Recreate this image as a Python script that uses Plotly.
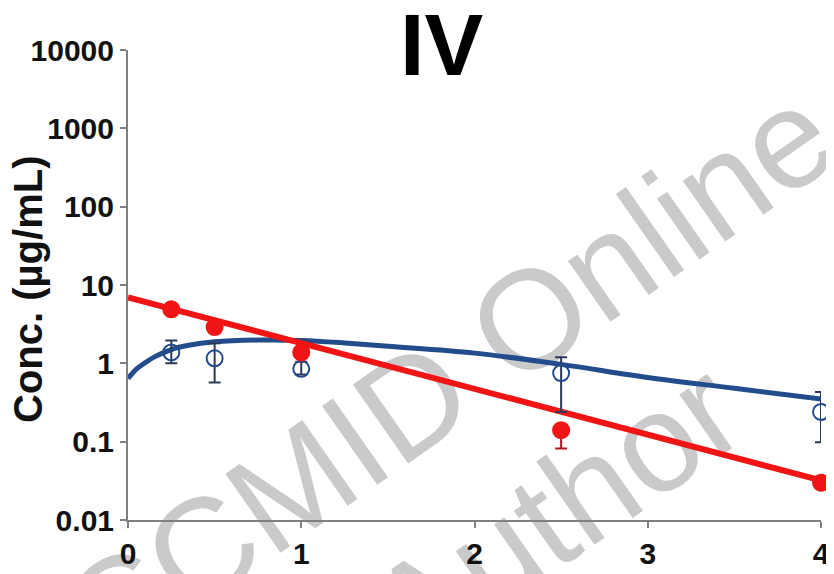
import plotly.graph_objects as go

# ---- data ----
time_points = [0.25, 0.5, 1, 2.5, 4]

red_mean = [4.9, 2.9, 1.38, 0.14, 0.030]
red_err_plus = [0.4, 0.3, 0.2, 0.02, 0.003]
red_err_minus = [0.4, 0.3, 0.2, 0.058, 0.003]

blue_mean = [1.38, 1.16, 0.85, 0.75, 0.24]
blue_err_plus = [0.57, 0.64, 0.2, 0.45, 0.19]
blue_err_minus = [0.38, 0.59, 0.13, 0.51, 0.142]

red_fit_t = [0, 4]
red_fit_c = [6.97, 0.032]

blue_fit_t = [0, 0.05, 0.1, 0.15, 0.25, 0.35, 0.5, 0.75, 1.0, 1.25, 1.5, 2.0, 2.5, 3.0, 3.5, 4.0]
blue_fit_c = [0.64, 0.85, 1.02, 1.2, 1.5, 1.7, 1.88, 1.98, 1.96, 1.82, 1.65, 1.35, 0.97, 0.66, 0.48, 0.35]

y_tickvals = [0.01, 0.1, 1, 10, 100, 1000, 10000]
y_ticktext = ["0.01", "0.1", "1", "10", "100", "1000", "10000"]
x_tickvals = [0, 1, 2, 3, 4]
x_ticktext = ["0", "1", "2", "3", "4"]

title_text = "IV"
y_title = "Conc. (µg/mL)"
watermark_1 = "CCMID Online"
watermark_2 = "Author"

RED = "#f01414"
BLUE = "#234c8c"
BLUE_ERR = "#2c3a58"
TICK_FONT = "Liberation Sans Narrow, Arial Narrow, Liberation Sans, Arial"
BOLD_FONT = "Liberation Sans, Arial, sans-serif"

# plot area in screen pixels (page body adds an 8px offset)
L, T, R, B = 128, 50, 821, 520
W, H = 693.0, 470.0


def px(xs):
    return (xs - L) / W


def py(ys):
    return (B - ys) / H


fig = go.Figure()

# fitted curves
fig.add_trace(go.Scatter(x=blue_fit_t, y=blue_fit_c, mode="lines",
                         line=dict(color=BLUE, width=5, shape="spline"),
                         showlegend=False, hoverinfo="skip"))
fig.add_trace(go.Scatter(x=red_fit_t, y=red_fit_c, mode="lines",
                         line=dict(color=RED, width=6),
                         showlegend=False, hoverinfo="skip"))

# observed data
fig.add_trace(go.Scatter(x=time_points, y=blue_mean, mode="markers",
                         marker=dict(symbol="circle-open", size=16,
                                     color=BLUE, line=dict(width=2, color=BLUE)),
                         error_y=dict(type="data", array=blue_err_plus,
                                      arrayminus=blue_err_minus, color=BLUE_ERR,
                                      thickness=2, width=6),
                         cliponaxis=False, showlegend=False))
fig.add_trace(go.Scatter(x=time_points, y=red_mean, mode="markers",
                         marker=dict(symbol="circle", size=18, color=RED,
                                     line=dict(width=0)),
                         error_y=dict(type="data", array=red_err_plus,
                                      arrayminus=red_err_minus, color="#b01818",
                                      thickness=2, width=6),
                         cliponaxis=False, showlegend=False))

axis_common = dict(showline=True, linecolor="#808080", linewidth=2,
                   ticks="outside", ticklen=6, tickwidth=2, tickcolor="#808080",
                   showgrid=False, zeroline=False, automargin=False,
                   tickfont=dict(family=TICK_FONT, size=30, color="#111111", weight="bold"))

fig.update_xaxes(range=[0, 4], tickvals=x_tickvals, ticktext=x_ticktext, **axis_common)
fig.update_yaxes(type="log", range=[-2, 4], tickvals=y_tickvals, ticktext=y_ticktext,
                 **axis_common)

# watermark (behind data)
for txt, cx, cy in [(watermark_1, 440, 366), (watermark_2, 548, 502)]:
    fig.add_shape(type="rect", xref="paper", yref="paper",
                  x0=px(cx) - 0.01, x1=px(cx) + 0.01,
                  y0=py(cy) - 0.01, y1=py(cy) + 0.01,
                  line=dict(width=0), fillcolor="rgba(0,0,0,0)", layer="below",
                  label=dict(text=txt, textangle=-35, textposition="middle center",
                             font=dict(family="Liberation Sans, Arial", size=140,
                                       color="#cacaca")))

# title and y-axis title
fig.add_annotation(text=title_text, xref="paper", yref="paper",
                   x=px(441), y=py(45),
                   xanchor="center", yanchor="middle", showarrow=False,
                   font=dict(family=BOLD_FONT, size=88, color="#000000", weight="bold"))
fig.add_annotation(text=y_title, xref="paper", yref="paper",
                   x=px(28), y=py(290), textangle=-90,
                   xanchor="center", yanchor="middle", showarrow=False,
                   font=dict(family=BOLD_FONT, size=40, color="#111111", weight="bold"))

# figure is 8px smaller than the window because the page body has an 8px margin
FIG_W, FIG_H = 826, 566
fig.update_layout(width=FIG_W, height=FIG_H,
                  margin=dict(l=L - 8, r=FIG_W - (R - 8), t=T - 8, b=FIG_H - (B - 8)),
                  paper_bgcolor="white", plot_bgcolor="rgba(0,0,0,0)")

fig.write_html("out.html")
